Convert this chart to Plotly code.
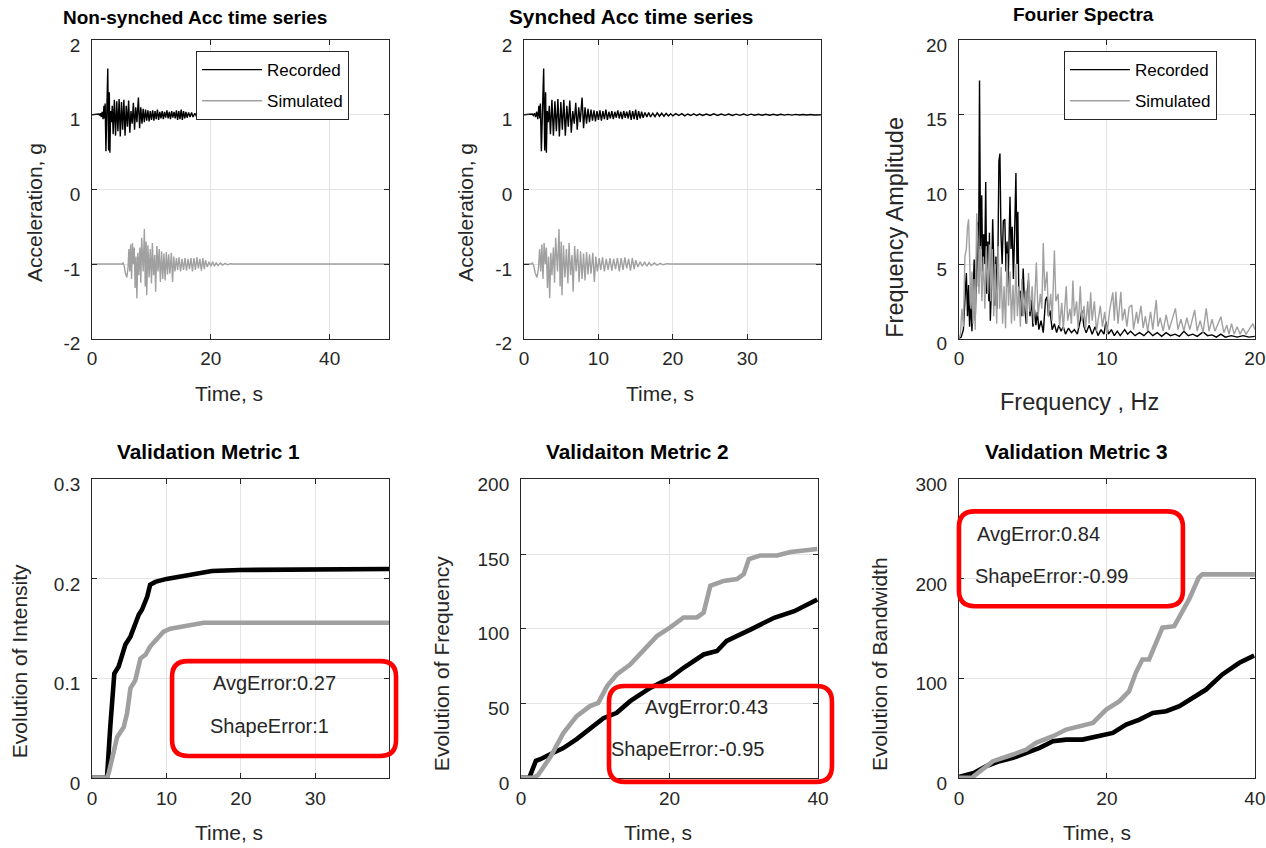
import plotly.graph_objects as go

# ---------------------------------------------------------------- data
# Recorded acceleration record (time in s, acceleration in g, offset +1 g)
rec_time = [0.0, 0.9, 1.1, 1.25, 1.4, 1.55, 1.7, 1.85, 2.0, 2.12, 2.2, 2.33, 2.48, 2.64,
            2.78, 2.9, 3.0, 3.12, 3.25, 3.4, 3.55, 3.75, 3.95, 4.15, 4.35, 4.55, 4.75,
            4.95, 5.15, 5.35, 5.55, 5.75, 5.95, 6.15, 6.35, 6.55, 6.75, 6.95, 7.15, 7.35,
            7.55, 7.8, 8.0, 8.2, 8.4, 8.6, 8.8, 9.0, 9.2, 9.4, 9.6, 9.8, 10.0, 10.2, 10.4,
            10.6, 10.8, 11.0, 11.2, 11.4, 11.6, 11.8, 12.0, 12.2, 12.4, 12.6, 12.8, 13.0,
            13.2, 13.4, 13.6, 13.8, 14.0, 14.2, 14.4, 14.6, 14.8, 15.0, 15.2, 15.4, 15.6,
            15.8, 16.0, 16.25, 16.5, 16.75, 17.0, 17.3, 17.6, 17.9, 18.2, 18.5, 18.8, 19.1,
            19.4, 19.7, 20.0, 20.4, 20.8, 21.2, 21.6, 22.0, 22.4, 22.8, 23.2, 23.6, 24.0,
            24.5, 25.0, 25.5, 26.0, 26.5, 27.0, 27.5, 28.0, 28.5, 29.0, 29.5, 30.0, 30.5,
            31.0, 31.5, 32.0, 32.5, 33.0, 33.5, 34.0, 34.5, 35.0, 35.5, 36.0, 36.5, 37.0,
            37.5, 38.0, 38.5, 39.0, 39.5, 40.0]
rec_acc = [1.0, 1.0, 1.01, 0.99, 1.02, 0.97, 1.04, 0.94, 1.12, 0.95, 1.15, 0.51, 1.2, 1.62,
           0.52, 1.3, 0.49, 1.05, 0.9, 1.12, 0.74, 1.2, 0.72, 1.18, 0.78, 1.21, 0.71,
           1.17, 0.8, 1.2, 0.72, 1.12, 0.84, 1.19, 0.76, 1.05, 0.88, 1.16, 0.8, 1.1,
           0.9, 1.23, 0.82, 1.1, 0.88, 1.08, 0.9, 1.07, 0.92, 1.06, 0.91, 1.05, 0.93, 1.06, 0.92,
           1.05, 0.94, 1.07, 0.93, 1.04, 0.95, 1.05, 0.94, 1.04, 0.96, 1.06, 0.95, 1.04,
           0.94, 1.05, 0.96, 1.04, 0.95, 1.06, 0.93, 1.05, 0.94, 1.07, 0.93, 1.05, 0.95,
           1.04, 0.96, 1.03, 0.97, 1.03, 0.97, 1.02, 0.975, 1.025, 0.98, 1.02, 0.98, 1.02,
           0.985, 1.015, 0.985, 1.015, 0.99, 1.015, 0.985, 1.01, 0.99, 1.012, 0.99, 1.01, 0.99,
           1.01, 0.99, 1.012, 0.99, 1.01, 0.992, 1.01, 0.99, 1.008, 0.992, 1.01, 0.992, 1.008,
           0.993, 1.007, 0.993, 1.007, 0.994, 1.006, 0.994, 1.006, 0.995, 1.005, 0.995, 1.005, 0.996,
           1.004, 0.996, 1.004, 0.997, 1.003, 1.0]

# Simulated acceleration record (own time base, offset -1 g)
sim_time = [0.0, 5.1, 5.2, 5.4, 5.6, 5.85, 6.05, 6.2, 6.35, 6.5, 6.65, 6.8, 6.95, 7.1, 7.25,
            7.4, 7.55, 7.7, 7.85, 8.05, 8.2, 8.35, 8.6, 8.8, 8.95, 9.1, 9.2, 9.4, 9.6, 9.8,
            10.0, 10.15, 10.35, 10.55, 10.7, 10.9, 11.1, 11.3, 11.5, 11.7, 11.9, 12.1, 12.3,
            12.5, 12.7, 12.9, 13.1, 13.35, 13.55, 13.75, 13.95, 14.2, 14.4, 14.65, 14.9, 15.15,
            15.4, 15.65, 15.9, 16.15, 16.4, 16.65, 16.9, 17.15, 17.4, 17.65, 17.9, 18.15, 18.4,
            18.65, 18.9, 19.1, 19.4, 19.7, 20.0, 20.3, 20.6, 20.9, 21.2, 21.6, 22.0, 22.4,
            22.8, 23.3, 23.7, 50.0]
sim_acc = [-1.0, -1.0, -0.98, -1.02, -1.12, -1.18, -1.05, -0.8, -1.1, -0.74, -1.2, -0.72, -1.0, -0.78, -1.32,
           -0.9, -1.46, -0.85, -1.15, -0.78, -1.25, -0.65, -1.1, -0.53, -1.3, -0.7, -1.42, -0.75, -1.18, -0.8,
           -1.26, -0.72, -1.15, -0.88, -1.37, -0.76, -1.1, -0.8, -1.24, -0.83, -1.2, -0.86, -1.22,
           -0.84, -1.14, -0.87, -1.13, -0.85, -1.24, -0.9, -1.1, -0.92, -1.08, -0.91, -1.1, -0.93,
           -1.08, -0.92, -1.09, -0.93, -1.07, -0.92, -1.1, -0.92, -1.08, -0.91, -1.06, -0.93, -1.09,
           -0.92, -1.07, -0.95, -1.04, -0.97, -1.03, -0.97, -1.03, -0.98, -1.02, -0.985, -1.015, -0.99,
           -1.01, -0.995, -1.0, -1.0]

# Time lag applied to the simulated record to synchronise it with the recording
sync_lag = 4.1

# Fourier amplitude spectra
rec_freq = [0.0, 0.15, 0.3, 0.45, 0.5, 0.58, 0.65, 0.72, 0.8, 0.88, 0.95, 1.03, 1.1, 1.18, 1.25,
            1.32, 1.39, 1.46, 1.54, 1.6, 1.67, 1.74, 1.81, 1.88, 1.95, 2.02, 2.06, 2.12, 2.2,
            2.28, 2.35, 2.42, 2.5, 2.57, 2.64, 2.7, 2.77, 2.84, 2.92, 3.0, 3.1, 3.18, 3.25,
            3.32, 3.45, 3.52, 3.6, 3.68, 3.76, 3.85, 3.92, 3.98, 4.05, 4.15, 4.25, 4.34, 4.45,
            4.55, 4.62, 4.7, 4.8, 4.9, 5.0, 5.1, 5.2, 5.3, 5.4, 5.55, 5.7, 5.85, 5.95, 6.05,
            6.15, 6.3, 6.45, 6.6, 6.75, 6.9, 7.05, 7.2, 7.4, 7.6, 7.8, 8.0, 8.2, 8.3, 8.45,
            8.6, 8.8, 9.0, 9.2, 9.4, 9.6, 9.8, 9.93, 10.1, 10.3, 10.5, 10.7, 10.9, 11.2, 11.4,
            11.6, 11.9, 12.2, 12.5, 12.8, 13.1, 13.4, 13.7, 14.0, 14.3, 14.6, 14.9, 15.2, 15.5,
            15.8, 16.1, 16.5, 16.8, 17.1, 17.4, 17.7, 18.0, 18.4, 18.8, 19.2, 19.6, 20.0]
rec_amp = [0.0, 0.1, 0.6, 3.2, 4.4, 1.5, 3.6, 0.8, 2.5, 0.5, 3.0, 5.3, 1.2, 4.0, 7.8,
           3.5, 17.3, 6.0, 9.6, 4.5, 7.0, 5.0, 10.5, 3.0, 6.5, 2.5, 7.1, 1.2, 3.5,
           8.0, 4.0, 2.2, 5.5, 2.0, 6.0, 11.9, 12.4, 7.0, 5.0, 7.9, 8.0, 4.5, 6.5,
           3.5, 9.5, 6.0, 7.5, 4.0, 7.0, 11.1, 5.0, 8.5, 2.5, 3.2, 1.5, 4.7, 2.0,
           1.0, 3.2, 3.9, 1.5, 2.6, 0.8, 2.0, 0.9, 1.8, 0.6, 1.2, 0.4, 2.6, 2.8, 1.5,
           1.9, 0.6, 1.0, 0.4, 0.9, 0.5, 0.8, 0.3, 0.7, 0.4, 0.6, 0.3, 1.2, 1.9, 0.8,
           0.4, 0.9, 0.3, 0.8, 0.2, 0.6, 0.3, 1.14, 0.3, 0.6, 0.2, 0.5, 0.2, 0.6, 0.3,
           0.5, 0.2, 0.4, 0.2, 0.5, 0.2, 0.4, 0.15, 0.4, 0.2, 0.3, 0.15, 0.5, 0.2,
           0.3, 0.15, 0.45, 0.2, 0.25, 0.1, 0.3, 0.1, 0.2, 0.1, 0.2, 0.1, 0.15]

sim_freq = [0.0, 0.1, 0.2, 0.3, 0.4, 0.5, 0.58, 0.65, 0.72, 0.8, 0.88, 0.95, 1.02, 1.1, 1.2,
            1.28, 1.35, 1.45, 1.55, 1.65, 1.75, 1.85, 1.95, 2.05, 2.15, 2.25, 2.35, 2.45, 2.55,
            2.65, 2.75, 2.85, 2.95, 3.05, 3.15, 3.25, 3.35, 3.45, 3.55, 3.65, 3.75, 3.85, 3.95,
            4.05, 4.15, 4.25, 4.35, 4.5, 4.6, 4.7, 4.8, 4.95, 5.05, 5.23, 5.35, 5.5, 5.6, 5.7,
            5.8, 5.95, 6.05, 6.2, 6.3, 6.45, 6.55, 6.7, 6.8, 6.95, 7.05, 7.25, 7.35, 7.5, 7.6,
            7.7, 7.8, 7.95, 8.05, 8.2, 8.3, 8.45, 8.55, 8.7, 8.8, 8.9, 9.0, 9.15, 9.3, 9.55,
            9.7, 9.85, 10.0, 10.2, 10.4, 10.5, 10.6, 10.75, 10.94, 11.05, 11.2, 11.35, 11.5,
            11.68, 11.8, 12.0, 12.1, 12.3, 12.45, 12.6, 12.75, 12.95, 13.1, 13.33, 13.45, 13.6,
            13.8, 14.0, 14.2, 14.4, 14.63, 14.8, 15.0, 15.2, 15.4, 15.6, 15.93, 16.1, 16.3,
            16.5, 16.71, 16.9, 17.1, 17.3, 17.5, 17.7, 17.9, 18.1, 18.25, 18.42, 18.6, 18.8,
            19.0, 19.2, 19.4, 19.6, 19.87, 20.0]
sim_amp = [0.0, 0.3, 2.0, 0.8, 5.5, 6.0, 7.5, 8.0, 5.5, 2.0, 4.5, 1.0, 4.0, 0.6, 8.4,
           6.5, 3.0, 6.2, 2.5, 5.5, 2.0, 6.2, 3.0, 6.3, 2.5, 6.0, 1.5, 5.0, 1.0,
           6.2, 2.0, 4.8, 1.0, 3.5, 0.7, 5.7, 2.2, 4.5, 1.0, 3.6, 1.2, 5.0, 1.5,
           3.5, 0.8, 4.0, 1.5, 3.2, 1.0, 4.4, 1.8, 3.5, 1.0, 5.1, 1.5, 3.0, 2.0, 6.4,
           3.2, 4.5, 1.5, 3.0, 1.2, 5.9, 2.5, 3.0, 0.8, 2.4, 0.6, 3.5, 1.2, 2.0, 1.0,
           3.9, 1.5, 2.5, 0.7, 3.5, 1.2, 2.2, 0.6, 2.5, 1.0, 3.1, 1.2, 2.5, 0.5, 2.2,
           0.8, 1.8, 0.3, 2.0, 3.1, 1.2, 3.14, 1.0, 3.14, 1.2, 2.0, 0.8, 2.1,
           2.25, 0.6, 1.8, 1.0, 2.2, 0.7, 1.5, 0.5, 1.8, 0.6, 2.58, 0.8, 1.4,
           0.5, 1.6, 0.6, 1.2, 2.03, 0.6, 1.3, 0.5, 1.4, 0.6, 1.92, 0.5, 1.2,
           0.4, 2.03, 0.5, 1.3, 0.5, 1.0, 1.47, 0.4, 0.9, 0.3, 1.0, 0.3, 0.8,
           0.3, 0.7, 0.3, 0.6, 1.0, 0.6]

# Validation metric 1: evolution of intensity
m1_rec_t = [0.0, 2.0, 2.45, 2.68, 2.99, 3.57, 4.0, 4.48, 5.15, 5.8, 6.27, 6.7, 7.4, 7.8, 8.5,
            10.0, 12.3, 14.6, 16.1, 19.9, 39.9]
m1_rec_v = [0.0, 0.0, 0.052, 0.072, 0.105, 0.112, 0.122, 0.134, 0.142, 0.156, 0.164, 0.169,
            0.182, 0.194, 0.197, 0.200, 0.203, 0.206, 0.208, 0.209, 0.210]
m1_sim_t = [0.0, 2.0, 2.24, 2.68, 3.36, 4.25, 4.7, 5.15, 5.8, 6.5, 7.2, 7.8, 8.7, 9.6, 10.5,
            12.3, 15.0, 39.9]
m1_sim_v = [0.0, 0.0, 0.005, 0.018, 0.041, 0.051, 0.065, 0.090, 0.098, 0.120, 0.124, 0.132,
            0.139, 0.147, 0.150, 0.152, 0.156, 0.156]
m1_avg_error = 0.27
m1_shape_error = 1

# Validation metric 2: evolution of frequency
m2_rec_t = [0.0, 1.1, 2.0, 2.6, 4.0, 5.7, 7.5, 9.3, 11.1, 12.9, 14.7, 17.4, 20.1, 21.9, 24.6,
            26.4, 27.7, 30.9, 34.1, 36.8, 39.9]
m2_rec_v = [0.0, 0.0, 11.4, 12.5, 16.0, 20.0, 26.0, 33.0, 40.0, 43.6, 51.4, 60.3, 67.0, 73.8,
            82.7, 85.0, 91.8, 99.4, 107.3, 111.7, 119.5]
m2_sim_t = [0.0, 1.6, 2.3, 4.0, 5.7, 7.5, 9.3, 10.4, 11.6, 12.9, 14.7, 16.5, 18.3, 20.1, 21.9,
            23.7, 24.6, 25.5, 27.3, 29.1, 30.0, 30.7, 32.2, 34.5, 36.3, 39.9]
m2_sim_v = [0.0, 0.0, 2.0, 14.4, 30.0, 41.4, 48.1, 50.3, 61.5, 69.3, 76.0, 86.0, 95.0, 100.8,
            107.5, 107.5, 110.8, 128.7, 132.0, 133.2, 136.5, 146.6, 149.0, 149.0, 151.4, 153.4]
m2_avg_error = 0.43
m2_shape_error = -0.95

# Validation metric 3: evolution of bandwidth
m3_rec_t = [0.0, 2.0, 3.7, 5.5, 7.3, 9.1, 10.9, 12.7, 14.5, 16.7, 18.5, 20.8, 22.6, 24.4, 26.2,
            28.0, 29.8, 31.6, 33.4, 35.6, 37.9, 39.9]
m3_rec_v = [1.0, 5.0, 11.8, 16.8, 20.2, 25.2, 30.2, 36.9, 38.5, 38.5, 41.9, 45.2, 53.6, 58.6,
            65.3, 67.0, 72.0, 80.5, 88.8, 104.0, 115.7, 123.0]
m3_sim_t = [0.0, 1.8, 2.0, 3.7, 4.6, 7.3, 9.1, 10.4, 12.7, 14.5, 16.3, 18.1, 19.9, 21.7, 23.0,
            23.9, 24.8, 25.7, 27.5, 29.1, 31.1, 32.4, 32.9, 40.0]
m3_sim_v = [0.0, 0.0, 1.7, 11.8, 16.8, 23.5, 28.5, 35.2, 41.9, 48.6, 52.0, 55.3, 68.7, 77.1,
            87.2, 105.6, 119.0, 119.0, 151.0, 152.5, 179.4, 201.2, 204.6, 204.6]
m3_avg_error = 0.84
m3_shape_error = -0.99

# Tick values / labels of the acceleration axes (plain hyphen for negatives)
acc_tickvals = [-2, -1, 0, 1, 2]
acc_ticktext = ["-2", "-1", "0", "1", "2"]

# ---------------------------------------------------------------- style
FONT = "Liberation Sans, Arial, Helvetica, sans-serif"
INK = "#262626"
REC_COLOR = "#000000"
SIM_COLOR = "#a0a0a0"

# Layout positions below are written in pixels of the final 1266 x 848 picture.
# The hosting page adds an 8 px body margin and the page view is scaled to the
# picture size, so positions are converted through that scale and margin.
OUT_W, OUT_H = 1266, 848
PAGE_W, PAGE_H = 1282, 868
BODY = 8
SX, SY = OUT_W / PAGE_W, OUT_H / PAGE_H
W, H = PAGE_W - 2 * BODY, PAGE_H - 2 * BODY


def px_x(p):
    """picture pixel column -> paper x"""
    return (p / SX - BODY) / W


def px_y(p):
    """picture pixel row -> paper y"""
    return 1 - (p / SY - BODY) / H


fig = go.Figure()

sim_time_sync = [t - sync_lag for t in sim_time]

thin = 1.4
thick = 4.6

# top row
fig.add_trace(go.Scatter(x=rec_time, y=rec_acc, mode="lines", name="Recorded",
                         line=dict(color=REC_COLOR, width=thin), xaxis="x", yaxis="y",
                         legend="legend", legendgroup="rec"))
fig.add_trace(go.Scatter(x=sim_time, y=sim_acc, mode="lines", name="Simulated",
                         line=dict(color=SIM_COLOR, width=thin), xaxis="x", yaxis="y",
                         legend="legend", legendgroup="sim"))
fig.add_trace(go.Scatter(x=rec_time, y=rec_acc, mode="lines", name="Recorded",
                         line=dict(color=REC_COLOR, width=thin), xaxis="x2", yaxis="y2",
                         showlegend=False))
fig.add_trace(go.Scatter(x=sim_time_sync, y=sim_acc, mode="lines", name="Simulated",
                         line=dict(color=SIM_COLOR, width=thin), xaxis="x2", yaxis="y2",
                         showlegend=False))
fig.add_trace(go.Scatter(x=rec_freq, y=rec_amp, mode="lines", name="Recorded",
                         line=dict(color=REC_COLOR, width=thin), xaxis="x3", yaxis="y3",
                         legend="legend2", legendgroup="rec"))
fig.add_trace(go.Scatter(x=sim_freq, y=sim_amp, mode="lines", name="Simulated",
                         line=dict(color=SIM_COLOR, width=thin), xaxis="x3", yaxis="y3",
                         legend="legend2", legendgroup="sim"))

# bottom row
for i, (rt, rv, st, sv) in enumerate([(m1_rec_t, m1_rec_v, m1_sim_t, m1_sim_v),
                                      (m2_rec_t, m2_rec_v, m2_sim_t, m2_sim_v),
                                      (m3_rec_t, m3_rec_v, m3_sim_t, m3_sim_v)]):
    ax = str(i + 4)
    fig.add_trace(go.Scatter(x=rt, y=rv, mode="lines", name="Recorded",
                             line=dict(color=REC_COLOR, width=thick),
                             xaxis="x" + ax, yaxis="y" + ax, showlegend=False))
    fig.add_trace(go.Scatter(x=st, y=sv, mode="lines", name="Simulated",
                             line=dict(color=SIM_COLOR, width=thick),
                             xaxis="x" + ax, yaxis="y" + ax, showlegend=False))


def axis(domain, rng, dtick, anchor, standoff, shift=0, **extra):
    d = dict(domain=domain, range=rng, dtick=dtick, tick0=0, anchor=anchor,
             showline=True, linecolor=INK, linewidth=1, mirror="ticks",
             ticks="inside", ticklen=5, tickcolor=INK, tickwidth=1,
             showgrid=True, gridcolor="#e4e4e4", gridwidth=1, zeroline=False,
             ticklabelstandoff=standoff, ticklabelshift=shift,
             tickfont=dict(family=FONT, size=19, color=INK), fixedrange=True)
    d.update(extra)
    return d


top = [px_y(342), px_y(43)]
bot = [px_y(782), px_y(483)]
XS, YS, YSHIFT = 3, 7, 5
acc_ticks = dict(tickmode="array", tickvals=acc_tickvals, ticktext=acc_ticktext)

layout_axes = dict(
    xaxis=axis([px_x(95), px_x(392)], [0, 50], 20, "y", XS),
    yaxis=axis(top, [-2, 2], 1, "x", YS, YSHIFT, **acc_ticks),
    xaxis2=axis([px_x(527), px_x(824)], [0, 39.9], 10, "y2", XS),
    yaxis2=axis(top, [-2, 2], 1, "x2", YS, YSHIFT, **acc_ticks),
    xaxis3=axis([px_x(962), px_x(1258)], [0, 20], 10, "y3", XS),
    yaxis3=axis(top, [0, 20], 5, "x3", YS, YSHIFT),
    xaxis4=axis([px_x(95), px_x(392)], [0, 39.9], 10, "y4", XS),
    yaxis4=axis(bot, [0, 0.3], 0.1, "x4", YS, YSHIFT),
    xaxis5=axis([px_x(524), px_x(821)], [0, 40], 20, "y5", XS),
    yaxis5=axis(bot, [0, 200], 50, "x5", YS, YSHIFT),
    xaxis6=axis([px_x(962), px_x(1258)], [0, 40], 20, "y6", XS),
    yaxis6=axis(bot, [0, 300], 100, "x6", YS, YSHIFT),
)


def legend_box(x_px):
    return dict(x=px_x(x_px), y=px_y(54), xanchor="left", yanchor="top",
                bgcolor="white", bordercolor=INK, borderwidth=1,
                font=dict(family=FONT, size=17, color="#000000"),
                itemwidth=60, tracegroupgap=6, traceorder="grouped")


annotations = []


def text(x, y, s, size=20, bold=False, angle=0):
    annotations.append(dict(
        x=px_x(x), y=px_y(y), xref="paper", yref="paper", showarrow=False,
        text=f"<b>{s}</b>" if bold else s, textangle=angle,
        xanchor="center", yanchor="middle",
        font=dict(family=FONT, size=size, color="#000000" if bold else INK)))


# panel titles
text(198, 20, "Non-synched Acc time series", 19, True)
text(634, 19, "Synched Acc time series", 20.8, True)
text(1087, 17, "Fourier Spectra", 19, True)
text(211, 455, "Validation Metric 1", 20.8, True)
text(641, 455, "Validaiton Metric 2", 20.8, True)
text(1080, 455, "Validation Metric 3", 20.8, True)

# axis titles
text(232, 397, "Time, s", 21)
text(663, 397, "Time, s", 21)
text(1083, 405, "Frequency , Hz", 23.5)
text(38, 216, "Acceleration, g", 21, angle=-90)
text(469, 216, "Acceleration, g", 21, angle=-90)
text(898, 230, "Frequency Amplitude", 23.5, angle=-90)
text(232, 837, "Time, s", 21)
text(661, 837, "Time, s", 21)
text(1100, 837, "Time, s", 21)
text(22, 665, "Evolution of Intensity", 21, angle=-90)
text(444, 668, "Evolution of Frequency", 21, angle=-90)
text(882, 668, "Evolution of Bandwidth", 21, angle=-90)

# error annotations
text(277, 687, f"AvgError:{m1_avg_error}")
text(272, 730, f"ShapeError:{m1_shape_error}")
text(710, 711, f"AvgError:{m2_avg_error}")
text(691, 753, f"ShapeError:{m2_shape_error}")
text(1042, 538, f"AvgError:{m3_avg_error}")
text(1055, 580, f"ShapeError:{m3_shape_error}")


def rounded_box(x0, y0, x1, y1, r=16):
    rx, ry = r / W, r / H
    X0, X1 = px_x(x0), px_x(x1)
    Y0, Y1 = px_y(y0), px_y(y1)  # Y0 top, Y1 bottom in paper units
    path = (f"M {X0 + rx},{Y0} L {X1 - rx},{Y0} Q {X1},{Y0} {X1},{Y0 - ry} "
            f"L {X1},{Y1 + ry} Q {X1},{Y1} {X1 - rx},{Y1} "
            f"L {X0 + rx},{Y1} Q {X0},{Y1} {X0},{Y1 + ry} "
            f"L {X0},{Y0 - ry} Q {X0},{Y0} {X0 + rx},{Y0} Z")
    return dict(type="path", path=path, xref="paper", yref="paper",
                line=dict(color="#ff0000", width=4.6), fillcolor="rgba(0,0,0,0)",
                layer="above")


shapes = [rounded_box(175, 665, 399, 760),
          rounded_box(612, 690, 835, 786),
          rounded_box(962, 515, 1186, 610)]

fig.update_layout(
    width=W, height=H, autosize=False,
    margin=dict(l=0, r=0, t=0, b=0),
    paper_bgcolor="white", plot_bgcolor="white",
    font=dict(family=FONT, color=INK),
    legend=legend_box(199),
    legend2=legend_box(1067),
    annotations=annotations,
    shapes=shapes,
    **layout_axes,
)

fig.write_html("out.html")
